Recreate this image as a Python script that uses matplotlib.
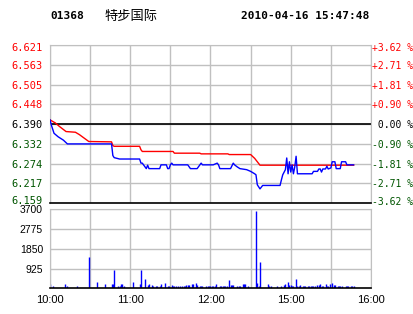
import matplotlib
matplotlib.use('Agg')
import matplotlib.pyplot as plt
from matplotlib.transforms import ScaledTranslation

# stock quote snapshot 01368, 2010-04-16
code = '01368'
name = '特步国际'
stamp = '2010-04-16 15:47:48'
prev_close = 6.390

price_ticks = [6.621, 6.563, 6.505, 6.448, 6.390, 6.332, 6.274, 6.217, 6.159]
pct_ticks = [3.62, 2.71, 1.81, 0.90, 0.00, -0.90, -1.81, -2.71, -3.62]
vol_ticks = [925, 1850, 2775, 3700]
hour_labels = ['10:00', '11:00', '12:00', '15:00', '16:00']

# trading minute index (0 = 10:00, 150 = 14:30, 240 = 16:00)
price_t = [0, 1, 3, 6, 10, 13, 46, 47, 48, 52, 67, 68, 69, 72, 73, 74, 82, 83,
           87, 88, 89, 90, 91, 92, 103, 105, 110, 113, 114, 122, 125, 126, 127,
           135, 137, 138, 140, 142, 147, 150, 153, 154, 155, 157, 158, 159, 172,
           173, 174, 176, 177, 178, 179, 180, 181, 182, 183, 184, 185, 196, 197,
           200, 201, 202, 203, 204, 206, 207, 208, 210, 211, 213, 214, 217, 218,
           221, 222, 227]
price = [6.402, 6.387, 6.363, 6.353, 6.343, 6.332, 6.332, 6.298, 6.292, 6.288,
         6.288, 6.276, 6.276, 6.260, 6.270, 6.260, 6.260, 6.271, 6.271, 6.260,
         6.260, 6.271, 6.276, 6.271, 6.271, 6.260, 6.260, 6.276, 6.271, 6.271,
         6.276, 6.271, 6.260, 6.260, 6.276, 6.271, 6.265, 6.260, 6.257, 6.252,
         6.245, 6.242, 6.213, 6.201, 6.206, 6.211, 6.211, 6.227, 6.242, 6.257,
         6.291, 6.245, 6.280, 6.250, 6.271, 6.245, 6.265, 6.296, 6.245, 6.245,
         6.252, 6.252, 6.259, 6.259, 6.250, 6.259, 6.259, 6.267, 6.259, 6.262,
         6.280, 6.280, 6.260, 6.260, 6.280, 6.280, 6.271, 6.271]

avg_t = [0, 4, 7, 12, 19, 22, 29, 46, 47, 48, 67, 68, 69, 92, 93, 112, 113,
         133, 134, 150, 153, 155, 157, 227]
avg_price = [6.402, 6.393, 6.383, 6.368, 6.366, 6.359, 6.339, 6.338, 6.327,
             6.325, 6.325, 6.315, 6.310, 6.310, 6.305, 6.305, 6.303, 6.303,
             6.301, 6.301, 6.290, 6.280, 6.270, 6.270]

volume = [
    200, 0, 100, 0, 0, 0, 0, 0, 0, 0,
    0, 200, 0, 100, 0, 0, 0, 0, 0, 0,
    100, 0, 0, 0, 0, 0, 0, 0, 0, 1450,
    0, 0, 0, 0, 0, 300, 0, 0, 0, 0,
    0, 180, 0, 0, 0, 0, 220, 220, 860, 0,
    0, 100, 120, 180, 200, 100, 0, 0, 0, 0,
    0, 0, 300, 0, 0, 0, 0, 200, 860, 0,
    0, 450, 0, 140, 200, 0, 150, 100, 0, 130,
    100, 0, 100, 200, 0, 0, 260, 0, 130, 130,
    0, 170, 130, 130, 130, 0, 130, 130, 0, 130,
    130, 130, 150, 150, 150, 0, 180, 180, 0, 250,
    150, 0, 100, 100, 100, 0, 0, 130, 130, 130,
    130, 130, 130, 130, 200, 0, 0, 130, 130, 130,
    130, 130, 130, 0, 400, 150, 150, 150, 0, 0,
    130, 130, 130, 0, 200, 200, 200, 0, 130, 0,
    0, 0, 0, 0, 3620, 260, 100, 1230, 0, 0,
    0, 0, 0, 200, 100, 100, 0, 0, 0, 0,
    130, 0, 0, 100, 0, 150, 200, 0, 300, 170,
    170, 130, 130, 0, 450, 120, 120, 150, 0, 130,
    130, 130, 0, 130, 130, 130, 130, 130, 130, 0,
    170, 170, 220, 130, 130, 0, 200, 130, 130, 200,
    0, 250, 170, 170, 0, 130, 130, 130, 130, 0,
    0, 130, 130, 130, 0, 130, 130, 130,
]

RED = '#ff0000'
GREEN = '#005500'
GRID = '#c0c0c0'
MONO = 'DejaVu Sans Mono'

W, H = 414, 314
fig = plt.figure(figsize=(W / 100, H / 100), dpi=100)


def box(x0, y0, x1, y1):
    return [x0 / W, 1 - y1 / H, (x1 - x0) / W, (y1 - y0) / H]


def level_color(p):
    if abs(p - prev_close) < 1e-6:
        return 'black'
    return RED if p > prev_close else GREEN


def nudge(label, px):
    # shift a tick label vertically by px pixels (positive = down)
    label.set_transform(label.get_transform() +
                        ScaledTranslation(0, -px / 100, fig.dpi_scale_trans))


ax = fig.add_axes(box(50, 44.7, 371, 203.3))
axv = fig.add_axes(box(50, 209.3, 371, 288.3))

grid_x = list(range(0, 241, 30))

# price panel
ax.plot(avg_t, avg_price, color=RED, lw=1.0, zorder=3)
ax.plot(price_t, price, color='#0000ff', lw=1.0, zorder=4)
ax.axhline(prev_close, color='black', lw=1.2, zorder=2)
ax.set_xlim(0, 240)
ax.set_ylim(price_ticks[-1], price_ticks[0])
ax.set_xticks(grid_x)
ax.set_xticklabels([])
ax.set_yticks(price_ticks)
ax.set_yticklabels(['%.3f' % p for p in price_ticks], family=MONO, fontsize=7.5)
for lab, p in zip(ax.get_yticklabels(), price_ticks):
    lab.set_color(level_color(p))
ax.tick_params(length=0, pad=5)
ax.grid(True, color=GRID, lw=1.0)
ax.set_axisbelow(True)
for side in ['left', 'top', 'right']:
    ax.spines[side].set_color(GRID)
ax.spines['bottom'].set_color('black')
ax.spines['bottom'].set_linewidth(1.2)
nudge(ax.get_yticklabels()[0], 2)
nudge(ax.get_yticklabels()[-1], -3)

ax2 = ax.twinx()
ax2.set_ylim(ax.get_ylim())
ax2.set_yticks(price_ticks)
pct_labels = []
for v in pct_ticks:
    if v == 0:
        pct_labels.append(' 0.00 %')
    else:
        pct_labels.append('%+.2f %%' % v)
ax2.set_yticklabels(pct_labels, family=MONO, fontsize=7)
for lab, p in zip(ax2.get_yticklabels(), price_ticks):
    lab.set_color(level_color(p))
ax2.tick_params(length=0, pad=0.5)
for s in ax2.spines.values():
    s.set_visible(False)
nudge(ax2.get_yticklabels()[0], 2)
nudge(ax2.get_yticklabels()[-1], -2)

# volume panel
axv.vlines(range(len(volume)), 0, volume, color='#0000ff', lw=1.0)
axv.set_xlim(0, 240)
axv.set_ylim(0, 3700)
axv.set_yticks(vol_ticks)
axv.set_yticklabels([str(v) for v in vol_ticks], family='Liberation Sans', fontsize=7.5)
for lab in axv.get_yticklabels():
    nudge(lab, 3)
axv.set_xticks(grid_x)
xl = []
for i in range(len(grid_x)):
    xl.append(hour_labels[i // 2] if i % 2 == 0 else '')
axv.set_xticklabels(xl, family='Liberation Sans', fontsize=8)
axv.tick_params(length=0, pad=5)
axv.grid(True, color=GRID, lw=1.0)
axv.set_axisbelow(True)
for side in ['left', 'top', 'right']:
    axv.spines[side].set_color(GRID)
axv.spines['bottom'].set_color('black')
axv.spines['bottom'].set_linewidth(1.2)

# header
fig.text(50 / W, 1 - 16 / H, code, family=MONO, weight='bold', fontsize=8, va='center')
fig.text(104 / W, 1 - 16 / H, name, family=['Noto Sans CJK SC', 'DejaVu Sans'],
         fontsize=9.5, va='center')
fig.text(369 / W, 1 - 16 / H, stamp, family=MONO, weight='bold', fontsize=8,
         va='center', ha='right')

fig.savefig('out.png', dpi=100)
